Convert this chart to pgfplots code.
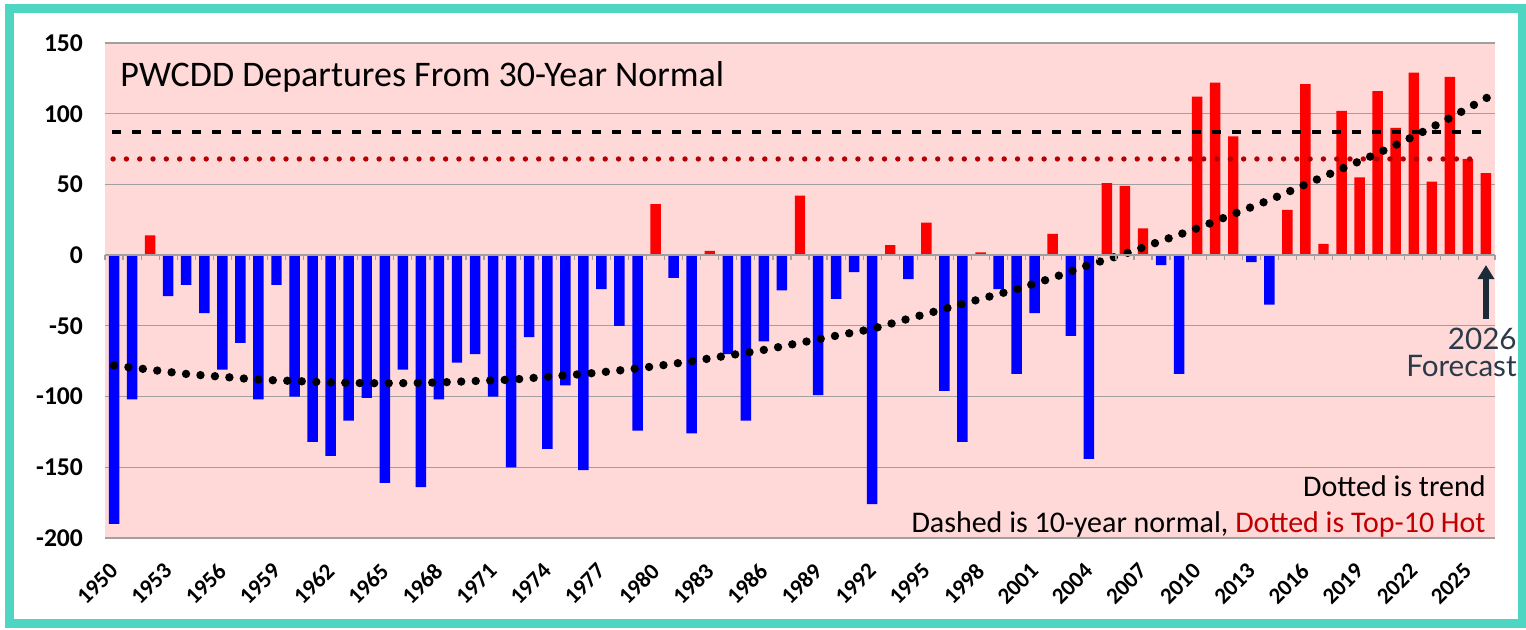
\documentclass[border=0pt]{standalone}
\usepackage{fontspec}
\setmainfont{Carlito}
\newfontfamily\fcfont{Lato}
\usepackage{pgfplots}
\usepackage{pgfplotstable}
\pgfplotsset{compat=1.18}
\usetikzlibrary{arrows.meta}

\definecolor{bgpink}{RGB}{255,216,216}
\definecolor{gridgray}{RGB}{160,160,160}
\definecolor{frameteal}{RGB}{78,214,194}
\definecolor{hotred}{RGB}{192,0,0}
\definecolor{dotred}{RGB}{180,0,0}
\definecolor{fcgray}{RGB}{43,58,74}
\definecolor{arrowdark}{RGB}{27,43,56}

% below-normal years
\pgfplotstableread{
year val
1950 -190
1951 -102
1953 -29
1954 -21
1955 -41
1956 -81
1957 -62
1958 -102
1959 -21
1960 -100
1961 -132
1962 -142
1963 -117
1964 -101
1965 -161
1966 -81
1967 -164
1968 -102
1969 -76
1970 -70
1971 -100
1972 -150
1973 -58
1974 -137
1975 -92
1976 -152
1977 -24
1978 -50
1979 -124
1981 -16
1982 -126
1984 -70
1985 -117
1986 -61
1987 -25
1989 -99
1990 -31
1991 -12
1992 -176
1994 -17
1996 -96
1997 -132
1999 -24
2000 -84
2001 -41
2003 -57
2004 -144
2008 -7
2009 -84
2013 -5
2014 -35
}\negdata

% above-normal years
\pgfplotstableread{
year val
1952 14
1980 36
1983 3
1988 42
1993 7
1995 23
1998 2
2002 15
2005 51
2006 49
2007 19
2010 112
2011 122
2012 84
2015 32
2016 121
2017 8
2018 102
2019 55
2020 116
2021 90
2022 129
2023 52
2024 126
2025 68
2026 58
}\posdata

% trend line
\pgfplotstableread{
year val
1950 -78
1952 -81
1954 -84
1956 -86
1958 -88
1960 -89
1962 -90
1964 -90.5
1966 -90.5
1968 -90
1970 -89
1972 -88
1974 -86
1976 -84
1978 -81.5
1980 -78.5
1982 -75
1984 -71
1986 -67
1988 -62
1990 -57
1992 -52
1994 -45
1996 -38
1998 -31
2000 -24
2002 -16
2004 -7
2006 1
2008 10
2010 19
2012 29
2014 39
2016 50
2018 61
2020 72
2022 84
2024 97
2026.3 113
}\trend

\begin{document}
\begin{tikzpicture}
\fill[white] (-52.5pt,-46pt) rectangle (710.5pt,269pt);

\begin{axis}[
    scale only axis,
    width=695pt, height=247.5pt,
    xmin=1949.5, xmax=2026.5,
    ymin=-200, ymax=150,
    axis background/.style={fill=bgpink},
    axis line style={draw=none},
    tick style={draw=none},
    ymajorgrids,
    grid style={gridgray, line width=0.6pt},
    ytick={-200,-150,...,150},
    xtick={1950,1953,...,2025},
    /pgf/number format/assume math mode=true,
    /pgf/number format/1000 sep={},
    yticklabel style={anchor=east, xshift=-7.5pt, font=\bfseries\fontsize{12.8}{12.8}\selectfont},
    xticklabel style={inner sep=0pt, xshift=0pt, yshift=-14.5pt, rotate=45, anchor=east, font=\bfseries\fontsize{11.5}{11.5}\selectfont},
  ]
  \addplot[ybar, bar width=0.58, bar shift=0pt, fill=blue, draw=none] table[x=year, y=val] {\negdata};
  \addplot[ybar, bar width=0.58, bar shift=0pt, fill=red, draw=none] table[x=year, y=val] {\posdata};

  % 10-year normal
  \addplot[black, line width=2pt, dash pattern=on 4.5pt off 5.5pt] coordinates {(1949.9,87) (2026.05,87)};
  % top-10 hot
  \addplot[dotred, line width=2.7pt, line cap=round, dash pattern=on 0pt off 6.65pt] coordinates {(1949.95,68) (2025.5,68)};
  % trend
  \addplot[black, line width=4.2pt, line cap=round, dash pattern=on 0pt off 7.25pt, smooth] table[x=year, y=val] {\trend};

  \draw[arrowdark, line width=3pt, -{Triangle[width=8pt, length=7pt]}] (axis cs:2026,-45) -- (axis cs:2026,-7);
\end{axis}

% zero line with year ticks
\begin{axis}[
    scale only axis,
    width=695pt, height=247.5pt,
    xmin=1949.5, xmax=2026.5,
    ymin=-200, ymax=150,
    axis x line=middle,
    axis y line=none,
    x axis line style={-, draw=gridgray, line width=0.9pt},
    xtick={1949.5,1950.5,...,2026.5},
    xticklabels={},
    ytick=\empty,
    major tick length=2.5pt,
    tick align=outside,
    xtick style={gridgray, line width=0.6pt},
  ]
  \addplot[draw=none] coordinates {(1950,0)};
\end{axis}

\node[anchor=base west, inner sep=0pt, font=\fontsize{18}{18}\selectfont] at (7.5pt,225.5pt) {PWCDD Departures From 30-Year Normal};
\node[anchor=base east, font=\fontsize{15}{15}\selectfont, inner sep=0pt] at (690.5pt,20.5pt) {Dotted is trend};
\node[anchor=base east, font=\fontsize{15}{15}\selectfont, inner sep=0pt] at (690.5pt,2.5pt) {Dashed is 10-year normal, \textcolor{hotred}{Dotted is Top-10 Hot}};
\node[anchor=base east, font=\fcfont\fontsize{14.8}{14.8}\selectfont, text=fcgray, inner sep=0pt] at (706pt,94pt) {2026};
\node[anchor=base east, font=\fcfont\fontsize{14.8}{14.8}\selectfont, text=fcgray, inner sep=0pt] at (706pt,80.5pt) {Forecast};

\draw[frameteal, line width=4.5pt] (-47.75pt,-43pt) rectangle (708.5pt,264.75pt);

\pgfresetboundingbox
\useasboundingbox (-52.5pt,-46pt) rectangle (710.5pt,269pt);
\end{tikzpicture}
\end{document}
